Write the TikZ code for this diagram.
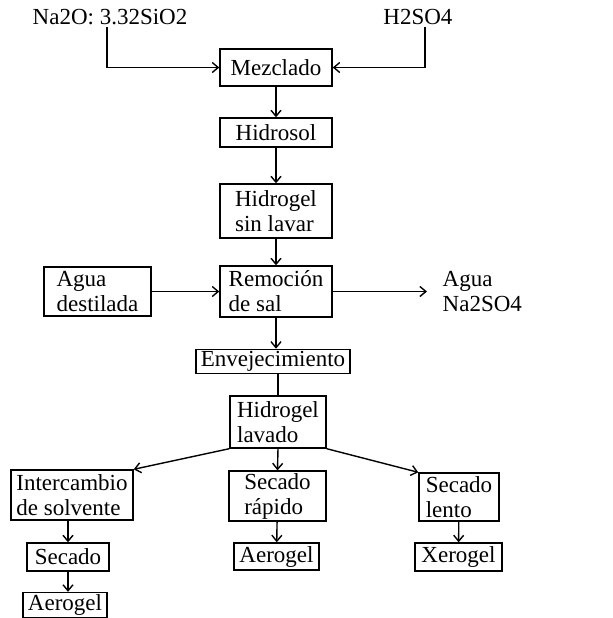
\documentclass[tikz,border=0pt]{standalone}
\usepackage{fontspec}
\setmainfont{Liberation Serif}
\usetikzlibrary{arrows.meta}

\begin{document}
\begin{tikzpicture}[x=0.5pt,y=-0.5pt,
  font=\fontsize{11.5}{12.5}\selectfont,
  every path/.style={line width=0.7pt},
  box/.style={draw,rectangle,align=left,inner sep=1pt},
  lbl/.style={inner sep=1pt,align=left},
  arr/.style={-{Straight Barb[length=3pt,width=5pt]}}]
\useasboundingbox (0,0) rectangle (613,618);
\node[lbl] (na2o) at (110,17) {Na2O: 3.32SiO2};
\node[lbl] (h2so4) at (418,17) {H2SO4};
\node[box,minimum width=56pt,minimum height=18.5pt] (mez) at (276,67.5) {Mezclado};
\node[box,minimum width=56pt,minimum height=14.5pt] (hsol) at (276,132.5) {Hidrosol};
\node[box,minimum width=56pt,minimum height=27pt] (hsl) at (276,211) {Hidrogel\\sin lavar};
\node[box,minimum width=56pt,minimum height=25.5pt] (rem) at (276,291.5) {Remoción\\de sal};
\node[box,minimum width=53.5pt,minimum height=24.5pt] (agua) at (97.5,291.5) {Agua\\destilada};
\node[lbl,anchor=west,inner xsep=7.5pt] (aguaout) at (427,291.5) {Agua\\Na2SO4};
\node[box,minimum width=77pt,minimum height=11.5pt] (env) at (273,361.5) {Envejecimiento};
\node[box,minimum width=48pt,minimum height=26pt] (hl) at (278,422) {Hidrogel\\lavado};
\node[box,minimum width=61pt,minimum height=25pt] (inter) at (72,495) {Intercambio\\de solvente};
\node[box,minimum width=48.5pt,minimum height=24pt] (srap) at (277.5,496) {Secado\\rápido};
\node[box,minimum width=40pt,minimum height=24pt] (slen) at (459,497) {Secado\\lento};
\node[box,minimum width=41pt,minimum height=14pt] (sec) at (68,557) {Secado};
\node[box,minimum width=42pt,minimum height=12pt] (aero1) at (65,605) {Aerogel};
\node[box,minimum width=42.5pt,minimum height=13.5pt] (aero2) at (276.5,556.5) {Aerogel};
\node[box,minimum width=43.5pt,minimum height=14pt] (xero) at (458.5,557) {Xerogel};
\draw[arr] ([xshift=-1.5pt]na2o.south) |- (mez.west);
\draw[arr] ([xshift=3.5pt]h2so4.south) |- (mez.east);
\draw[arr] (mez) -- (hsol);
\draw[arr] (hsol) -- (hsl);
\draw[arr] (hsl) -- (rem);
\draw[arr] (agua) -- (rem);
\draw[arr] (rem.east) -- (aguaout.west);
\draw[arr] (rem.south) -- (rem.south |- env.north);
\draw (env.south -| hl) -- (hl.north);
\draw[arr] (hl.south west) -- (inter.north east);
\draw[arr] (hl.south) -- (srap.north);
\draw[arr] (hl.south east) -- (slen.north west);
\draw[arr] (inter.south -| sec) -- (sec.north);
\draw[arr] (sec.south) -- (sec.south |- aero1.north);
\draw[arr] (srap) -- (aero2);
\draw[arr] (slen) -- (xero);
\end{tikzpicture}
\end{document}
